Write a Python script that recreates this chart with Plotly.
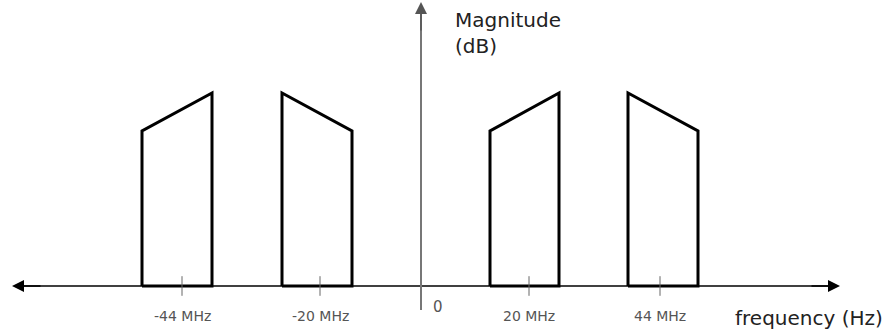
import plotly.graph_objects as go

# Schematic spectrum: four pass-bands placed symmetrically about 0 Hz.
# Horizontal positions are schematic units measured from the magnitude axis.
band_names = ["-44 MHz", "-20 MHz", "20 MHz", "44 MHz"]
band_left = [-279, -139, 69, 207]
band_right = [-209, -69, 138, 277]
level_at_left = [155, 193, 155, 193]
level_at_right = [193, 155, 193, 155]

tick_pos = [-239, -101, 108, 239]
tick_text = ["-44 MHz", "-20 MHz", "20 MHz", "44 MHz"]

# Axis extents in the same schematic units
freq_axis_min, freq_axis_max = -409, 419
mag_axis_min, mag_axis_max = -24, 284

FONT = "DejaVu Sans"

fig = go.Figure()

# Band outlines (closed pentagons sitting on the frequency axis)
for name, xl, xr, yl, yr in zip(band_names, band_left, band_right,
                                level_at_left, level_at_right):
    fig.add_trace(go.Scatter(
        x=[xl, xl, xr, xr, xl],
        y=[0, yl, yr, 0, 0],
        mode="lines",
        line=dict(color="black", width=3),
        name=name,
        hoverinfo="skip",
        showlegend=False,
    ))

# Frequency axis line
fig.add_shape(type="line", x0=freq_axis_min + 4, x1=freq_axis_max - 4, y0=0, y1=0,
              line=dict(color="black", width=1.5), layer="below")
# Magnitude axis line
fig.add_shape(type="line", x0=0, x1=0, y0=mag_axis_min, y1=mag_axis_max - 4,
              line=dict(color="#777777", width=2), layer="below")

# Arrow heads
arrow_common = dict(xref="x", yref="y", axref="x", ayref="y", text="",
                    showarrow=True, arrowhead=2, arrowsize=1.6)
fig.add_annotation(x=freq_axis_min, y=0, ax=freq_axis_min + 30, ay=0,
                   arrowcolor="black", arrowwidth=1.5, **arrow_common)
fig.add_annotation(x=freq_axis_max, y=0, ax=freq_axis_max - 30, ay=0,
                   arrowcolor="black", arrowwidth=1.5, **arrow_common)
fig.add_annotation(x=0, y=mag_axis_max, ax=0, ay=mag_axis_max - 30,
                   arrowcolor="#555555", arrowwidth=1.5, **arrow_common)

# Tick marks crossing the frequency axis
fig.add_trace(go.Scatter(
    x=tick_pos, y=[0] * len(tick_pos),
    mode="markers",
    marker=dict(symbol="line-ns-open", size=14, color="#666666",
                line=dict(color="#666666", width=1)),
    hoverinfo="skip", showlegend=False,
))

# Tick labels
for xv, label in zip(tick_pos, tick_text):
    fig.add_annotation(x=xv, y=0, yshift=-30, text=label, showarrow=False,
                       xanchor="center", yanchor="middle",
                       font=dict(family=FONT, size=14, color="#555555"))

# Origin label
fig.add_annotation(x=0, y=0, xshift=17, yshift=-21, text="0", showarrow=False,
                   xanchor="center", yanchor="middle",
                   font=dict(family=FONT, size=15, color="#555555"))

# Axis titles
fig.add_annotation(x=32, y=mag_axis_max - 4, text="Magnitude<br>(dB)",
                   showarrow=False, xanchor="left", yanchor="top", align="left",
                   font=dict(family=FONT, size=20, color="#222222"))
fig.add_annotation(x=312, y=-32, text="frequency (Hz)",
                   showarrow=False, xanchor="left", yanchor="middle",
                   font=dict(family=FONT, size=20, color="#222222"))

fig.update_layout(
    width=892, height=331,
    margin=dict(l=0, r=0, t=0, b=0),
    paper_bgcolor="white", plot_bgcolor="white",
    xaxis=dict(range=[-421, 471], visible=False, fixedrange=True),
    yaxis=dict(range=[-45, 286], visible=False, fixedrange=True),
    showlegend=False,
)

fig.write_html("out.html")
